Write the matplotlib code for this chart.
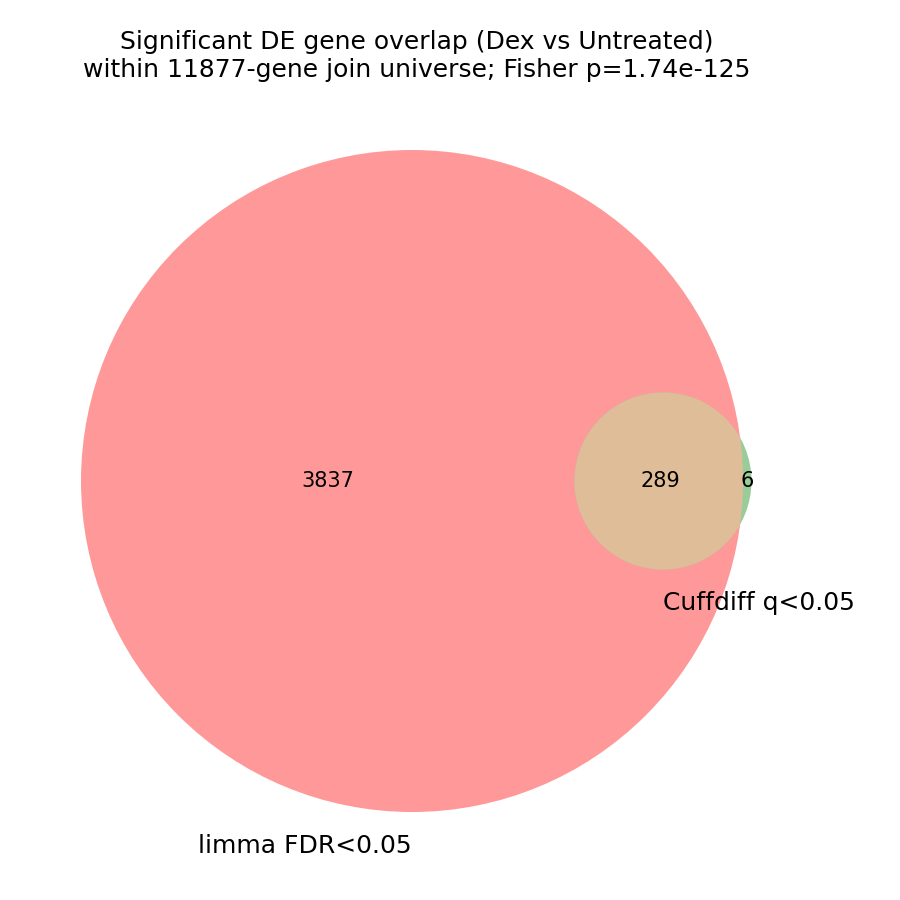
import matplotlib
matplotlib.use("Agg")
import matplotlib.pyplot as plt
import numpy as np
from matplotlib.colors import to_rgb
from matplotlib.patches import Circle

title = ("Significant DE gene overlap (Dex vs Untreated)\n"
         "within 11877-gene join universe; Fisher p=1.74e-125")
set_labels = ["limma FDR<0.05", "Cuffdiff q<0.05"]
only_a = 3837
only_b = 6
both = 289
set_colors = ["r", "g"]


def overlap_area(r1, r2, d):
    if d >= r1 + r2:
        return 0.0
    if d <= abs(r1 - r2):
        return np.pi * min(r1, r2) ** 2
    a1 = r1 ** 2 * np.arccos((d ** 2 + r1 ** 2 - r2 ** 2) / (2 * d * r1))
    a2 = r2 ** 2 * np.arccos((d ** 2 + r2 ** 2 - r1 ** 2) / (2 * d * r2))
    k = np.sqrt((-d + r1 + r2) * (d + r1 - r2) * (d - r1 + r2) * (d + r1 + r2))
    return a1 + a2 - 0.5 * k


def find_distance(r1, r2, area):
    lo, hi = abs(r1 - r2), r1 + r2
    for _ in range(100):
        mid = (lo + hi) / 2
        if overlap_area(r1, r2, mid) > area:
            lo = mid
        else:
            hi = mid
    return (lo + hi) / 2


def faded(c, alpha=0.4):
    c = np.asarray(to_rgb(c)) if isinstance(c, str) else np.asarray(c)
    return tuple(1 - alpha * (1 - c))


def main():
    total = only_a + only_b + both
    r_a = np.sqrt((only_a + both) / total / np.pi)
    r_b = np.sqrt((only_b + both) / total / np.pi)
    d = find_distance(r_a, r_b, both / total)
    ca = np.array([0.0, 0.0])
    cb = np.array([d, 0.0])

    col_a = np.array(to_rgb(set_colors[0]))
    col_b = np.array(to_rgb(set_colors[1]))
    col_ab = np.minimum(0.7 * (col_a + col_b), 1.0)

    fig = plt.figure(figsize=(6, 6), dpi=150)
    ax = fig.add_axes([0, 0, 1, 1])
    ax.set_axis_off()

    # layout: pixels per data unit
    s = 331 / r_a
    ax.set_xlim(-412 / s, 488 / s)
    ax.set_ylim(-419 / s, 481 / s)
    ax.set_aspect("equal")

    circ_a = Circle(ca, r_a, facecolor=faded(col_a), edgecolor="none")
    circ_b = Circle(cb, r_b, facecolor=faded(col_b), edgecolor="none")
    ax.add_patch(circ_a)
    ax.add_patch(circ_b)
    circ_ab = Circle(cb, r_b, facecolor=faded(col_ab), edgecolor="none")
    ax.add_patch(circ_ab)
    circ_ab.set_clip_path(circ_a)

    # subset labels
    ax.text(((ca[0] - r_a) + (cb[0] - r_b)) / 2, 0, str(only_a),
            ha="center", va="center", fontsize=10)
    ax.text(((cb[0] - r_b) + (ca[0] + r_a)) / 2 + 0.003, 0, str(both),
            ha="center", va="center", fontsize=10)
    ax.text(((ca[0] + r_a) + (cb[0] + r_b)) / 2, 0, str(only_b),
            ha="center", va="center", fontsize=10)

    # set labels
    off = 0.037
    ax.text(ca[0], ca[1] - r_a - off, set_labels[0],
            ha="right", va="top", fontsize=12)
    ax.text(cb[0], cb[1] - r_b - off, set_labels[1],
            ha="left", va="top", fontsize=12)

    fig.text(0.463, 0.938, title, ha="center", va="center", fontsize=12)

    fig.savefig("out.png", dpi=150)


if __name__ == "__main__":
    main()
